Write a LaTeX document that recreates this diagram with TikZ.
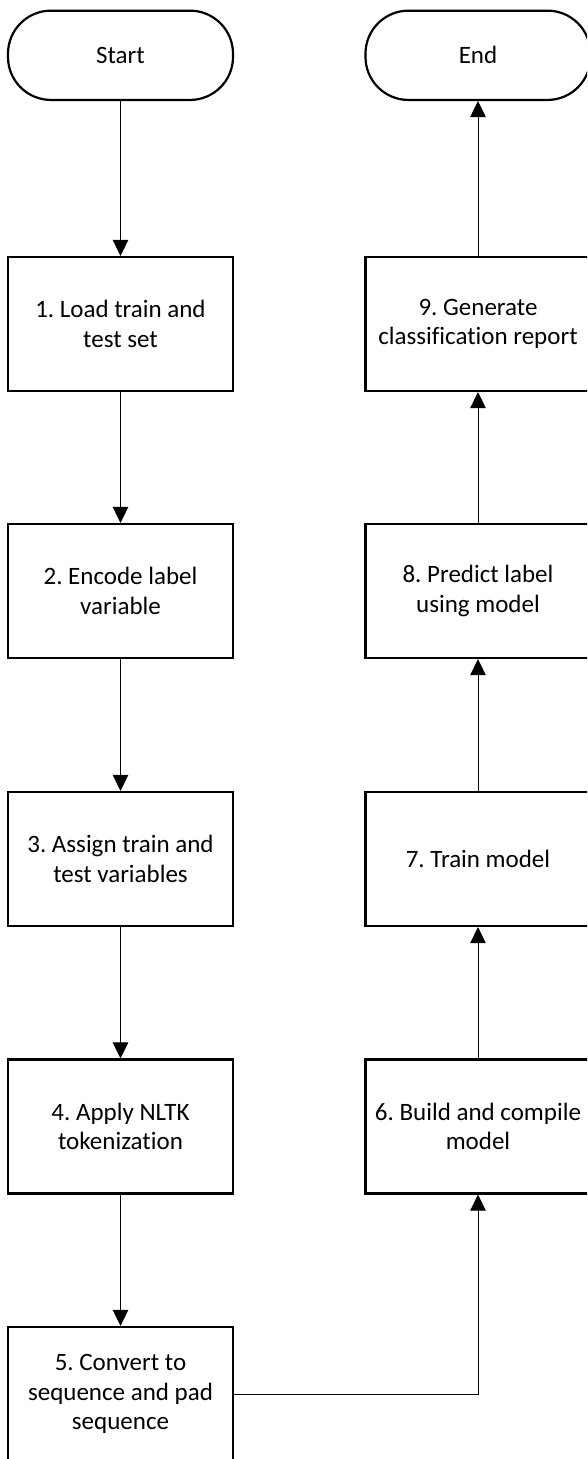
\documentclass[tikz,border=0pt]{standalone}
\usepackage{fontspec}
\setmainfont{Carlito}[Ligatures=NoCommon]
\usetikzlibrary{arrows.meta}
\frenchspacing
\begin{document}
\begin{tikzpicture}[x=1pt,y=-1pt,
  every node/.style={font=\fontsize{25}{29.5}\selectfont, align=center, inner sep=0pt},
  procbox/.style={draw=black, line width=2.2pt, fill=white, minimum width=225pt, minimum height=134pt},
  termbox/.style={draw=black, line width=2.2pt, fill=white, minimum width=225pt, minimum height=89.3pt, rounded corners=43pt},
  flow/.style={draw=black, line width=1pt, -{Triangle[width=15.5pt,length=16pt]}}
]
\useasboundingbox (0,0) rectangle (587,1459);
\clip (0,0) rectangle (587,1459);
\fill[white] (0,0) rectangle (587,1459);

\node[termbox] (start) at (120.5,55.3) {Start};
\node[termbox] (end) at (478,55.3) {End};

\node[procbox] (b1) at (120.5,324) {1. Load train and\\test set};
\node[procbox] (b2) at (120.5,591) {2. Encode label\\variable};
\node[procbox] (b3) at (120.5,859) {3. Assign train and\\test variables};
\node[procbox] (b4) at (120.5,1126.5) {4. Apply NLTK\\tokenization};
\node[procbox] (b5) at (120.5,1394) {5. Convert to\\sequence and pad\\sequence};

\node[procbox] (b9) at (478,324) {9. Generate\\classification report};
\node[procbox] (b8) at (478,591) {8. Predict label\\using model};
\node[procbox] (b7) at (478,859) {7. Train model};
\node[procbox] (b6) at (478,1126.5) {6. Build and compile\\model};

\draw[flow] (start) -- (b1);
\draw[flow] (b1) -- (b2);
\draw[flow] (b2) -- (b3);
\draw[flow] (b3) -- (b4);
\draw[flow] (b4) -- (b5);
\draw[flow] (b5.east) -| (b6.south);
\draw[flow] (b6) -- (b7);
\draw[flow] (b7) -- (b8);
\draw[flow] (b8) -- (b9);
\draw[flow] (b9) -- (end);
\end{tikzpicture}
\end{document}
